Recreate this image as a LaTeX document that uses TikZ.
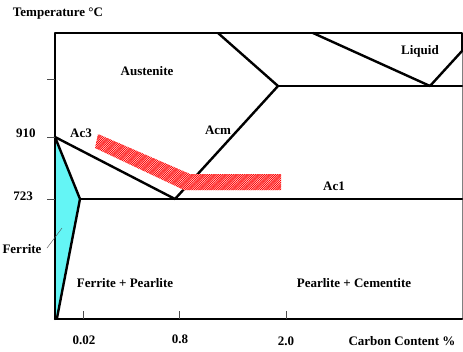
\documentclass[tikz,border=0pt]{standalone}
\usepackage{fontspec}
\setmainfont{Liberation Serif}
\usetikzlibrary{patterns}
\pgfdeclarepatternformonly{densene}{\pgfqpoint{-1pt}{-1pt}}{\pgfqpoint{3pt}{3pt}}{\pgfqpoint{2.2pt}{2.2pt}}%
{\pgfsetlinewidth{0.9pt}\pgfpathmoveto{\pgfqpoint{0pt}{0pt}}\pgfpathlineto{\pgfqpoint{2.3pt}{2.3pt}}\pgfusepath{stroke}}
\definecolor{ferritecyan}{RGB}{100,245,245}
\begin{document}
\begin{tikzpicture}[x=1pt,y=-1pt,
  lbl/.style={font=\bfseries\fontsize{13}{15}\selectfont, inner sep=0pt},
  thick line/.style={line width=2.4pt, line cap=round, line join=round},
  tick/.style={line width=0.5pt, gray!60!black}]
\useasboundingbox (0,0) rectangle (463,351);
% ferrite region
\fill[ferritecyan] (55,137) -- (80,199) -- (57,318) -- (55,318) -- cycle;
% coordinates
\coordinate (TL) at (55,33);
\coordinate (BL) at (55,319);
\coordinate (TR) at (462,33);
\coordinate (BR) at (462,319);
\coordinate (A3) at (55,137);
\coordinate (E) at (175,199);
\coordinate (F) at (80,199);
\coordinate (F0) at (57,318);
\coordinate (R1) at (462,199);
\coordinate (C) at (278,86);
\coordinate (CT) at (218,33);
\coordinate (LT) at (313,33);
\coordinate (L) at (430,86);
\coordinate (R2) at (462,86);
\coordinate (RL) at (462,51);
% frame
\draw[gray, line width=0.8pt] (TR) -- (BR);
\draw[thick line] (BL) -- (TL) -- (TR) -- (RL);
\draw[thick line] (BL) -- (BR);
% lines
\draw[thick line] (A3) -- (E) -- (C) -- (CT);
\draw[thick line] (C) -- (R2);
\draw[thick line] (LT) -- (L) -- (RL);
\draw[thick line] (A3) -- (F) -- (F0);
\draw[thick line] (F) -- (R1);
% red band (over the lines)
\fill[white] (98,134) -- (190,174) -- (281,174) -- (281,190) -- (184,190) -- (95,148) -- cycle;
\path[pattern=densene, pattern color=red]
  (98,134) -- (190,174) -- (281,174) -- (281,190) -- (184,190) -- (95,148) -- cycle;
% ticks
\draw[tick] (47,79) -- (55,79);
\draw[tick] (47,137) -- (55,137);
\draw[tick] (47,199) -- (55,199);
\draw[tick] (83,311) -- (83,319);
\draw[tick] (179,311) -- (179,319);
\draw[tick] (286,311) -- (286,319);
% labels
\node[lbl] (temp) at (58,14) {Temperature °C};
\node[lbl] (aus) at (147,71) {Austenite};
\node[lbl] (liq) at (420,51) {Liquid};
\node[lbl] (t910) at (26,133) {910};
\node[lbl] (ac3) at (81,133) {Ac3};
\node[lbl] (acm) at (218,130) {Acm};
\node[lbl] (ac1) at (334,186) {Ac1};
\node[lbl] (t723) at (23,196) {723};
\node[lbl] (fer) at (22,249) {Ferrite};
\coordinate (ferpt) at (62,228);
\draw[line width=0.4pt, gray!60!black] (47,248) -- (ferpt);
\node[lbl] (fp) at (125,283) {Ferrite + Pearlite};
\node[lbl] (pc) at (354,283) {Pearlite + Cementite};
\node[lbl] (x1) at (84,340) {0.02};
\node[lbl] (x2) at (180,339) {0.8};
\node[lbl] (x3) at (286,341) {2.0};
\node[lbl] (xl) at (402,341) {Carbon Content \%};
\end{tikzpicture}
\end{document}
